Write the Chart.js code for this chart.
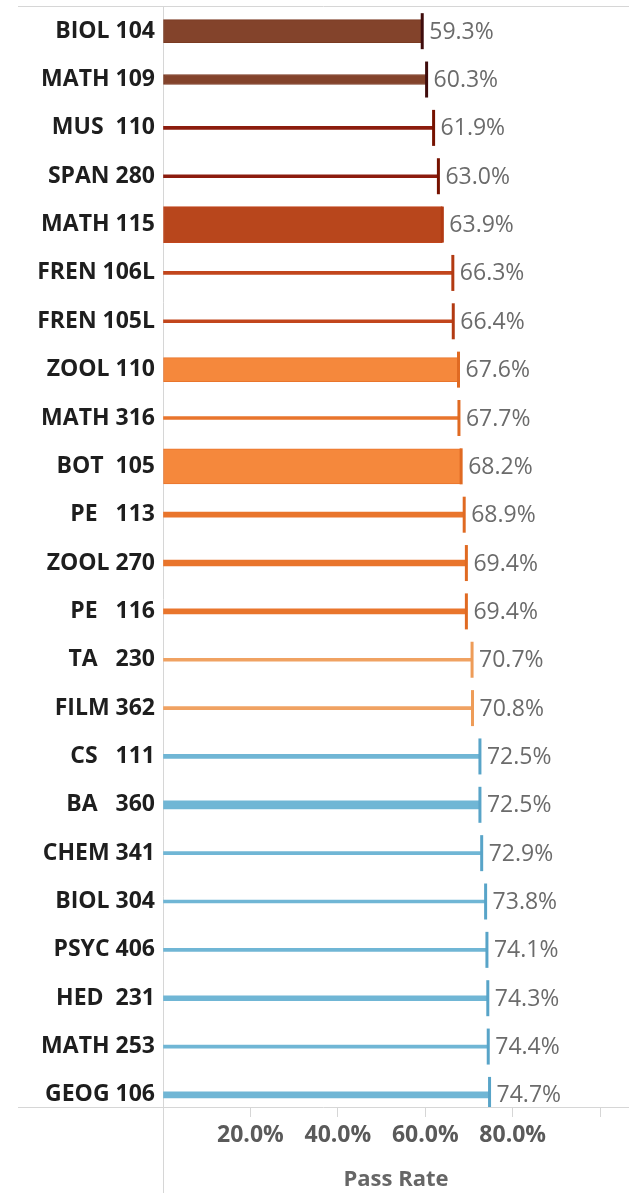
<!DOCTYPE html>
<html lang="en">
<head>
<meta charset="UTF-8">
<meta name="viewport" content="width=device-width, initial-scale=1.0">
<title>Pass Rate by Course</title>
<script src="https://cdn.jsdelivr.net/npm/chart.js"></script>
<style>
    html, body {
        margin: 0;
        padding: 0;
        background: #fff;
    }
    .chart-container {
        position: relative;
        width: 629px;
        height: 1193px;
    }
</style>
</head>
<body>

<div class="chart-container">
    <canvas id="passChart"></canvas>
</div>

<script>
    // courses, sorted by pass rate (subject padded to 4 chars like the source)
    const courses = ['BIOL 104', 'MATH 109', 'MUS  110', 'SPAN 280', 'MATH 115', 'FREN 106L', 'FREN 105L',
        'ZOOL 110', 'MATH 316', 'BOT  105', 'PE   113', 'ZOOL 270', 'PE   116', 'TA   230', 'FILM 362',
        'CS   111', 'BA   360', 'CHEM 341', 'BIOL 304', 'PSYC 406', 'HED  231', 'MATH 253', 'GEOG 106'];
    const passRates = [0.593, 0.603, 0.619, 0.630, 0.639, 0.663, 0.664, 0.676, 0.677, 0.682, 0.689, 0.694,
        0.694, 0.707, 0.708, 0.725, 0.725, 0.729, 0.738, 0.741, 0.743, 0.744, 0.747];
    // enrolment drives the bar thickness
    const enrolment = [230, 100, 30, 30, 360, 30, 30, 240, 30, 350, 50, 60, 50, 30, 30, 40, 80, 30, 30, 30, 50, 30, 60];
    const xTickValues = [0.2, 0.4, 0.6, 0.8];

    // colour steps by pass rate
    const tiers = [
        { upTo: 0.61,  fill: '#83432b', line: '#7a3a22', tick: '#3f0c0c' },
        { upTo: 0.635, fill: '#8c1c0e', line: '#8c1c0e', tick: '#761200' },
        { upTo: 0.67,  fill: '#b8461c', line: '#c2461c', tick: '#b23a12' },
        { upTo: 0.70,  fill: '#f5883c', line: '#e9752c', tick: '#e06a22' },
        { upTo: 0.72,  fill: '#f0a262', line: '#f0a262', tick: '#ee9c58' },
        { upTo: 1.01,  fill: '#78bbd8', line: '#70b6d5', tick: '#58a4c8' }
    ];
    const tierOf = r => tiers.find(t => r < t.upTo);
    const thicknessOf = n => n / 10;

    const frameAndLabels = {
        id: 'frameAndLabels',
        beforeDatasetsDraw(chart) {
            const { ctx, chartArea: a } = chart;
            ctx.save();
            ctx.strokeStyle = '#d6d6d6';
            ctx.lineWidth = 1;
            ctx.beginPath();
            ctx.moveTo(18, a.top - 0.5);
            ctx.lineTo(chart.width, a.top - 0.5);
            ctx.moveTo(18, a.bottom + 0.5);
            ctx.lineTo(chart.width, a.bottom + 0.5);
            ctx.moveTo(a.left + 0.5, a.top - 1);
            ctx.lineTo(a.left + 0.5, chart.height);
            ctx.stroke();
            ctx.restore();
        },
        afterDatasetsDraw(chart) {
            const { ctx } = chart;
            const meta = chart.getDatasetMeta(0);
            ctx.save();
            ctx.font = '23px "Open Sans"';
            ctx.fillStyle = '#6b6b6b';
            ctx.textAlign = 'left';
            ctx.textBaseline = 'middle';
            meta.data.forEach((pt, i) => {
                ctx.fillText((passRates[i] * 100).toFixed(1) + '%', pt.x + 7, pt.y + 1);
            });
            ctx.restore();
        }
    };

    const tickMarks = {
        type: 'scatter',
        data: courses.map((c, i) => ({ x: passRates[i], y: i })),
        pointStyle: 'line',
        rotation: 90,
        radius: 18,
        hoverRadius: 18,
        borderWidth: 3,
        borderColor: passRates.map(r => tierOf(r).tick),
        order: -1
    };

    const barSets = courses.map((c, i) => {
        const t = tierOf(passRates[i]);
        const thick = thicknessOf(enrolment[i]);
        return {
            type: 'bar',
            label: c,
            data: [{ x: passRates[i], y: i }],
            barThickness: thick,
            grouped: false,
            backgroundColor: thick > 8 ? t.fill : t.line,
            borderColor: t.line,
            borderWidth: thick > 8 ? 1 : 0,
            borderSkipped: false
        };
    });

    const ctx = document.getElementById('passChart').getContext('2d');
    new Chart(ctx, {
        type: 'bar',
        data: { datasets: [tickMarks, ...barSets] },
        plugins: [frameAndLabels],
        options: {
            indexAxis: 'y',
            responsive: true,
            maintainAspectRatio: false,
            animation: false,
            devicePixelRatio: 1,
            layout: { autoPadding: false, padding: { top: 7, left: 0, right: 0, bottom: 0 } },
            plugins: {
                legend: { display: false },
                tooltip: { enabled: false }
            },
            scales: {
                x: {
                    type: 'linear',
                    position: 'bottom',
                    min: 0,
                    max: 1.066,
                    offset: false,
                    afterFit: s => { s.height = 86; s.paddingLeft = 0; s.paddingRight = 0; },
                    border: { display: false },
                    grid: {
                        drawOnChartArea: false,
                        drawTicks: true,
                        tickLength: 10,
                        color: '#d6d6d6'
                    },
                    ticks: {
                        stepSize: 0.2,
                        includeBounds: false,
                        autoSkip: false,
                        maxRotation: 0,
                        padding: 5,
                        color: '#5a5a5a',
                        font: { family: 'Open Sans', size: 23, weight: 'bold' },
                        callback: v => xTickValues.some(t => Math.abs(t - v) < 1e-6) ? (v * 100).toFixed(1) + '%' : ''
                    },
                    title: {
                        display: true,
                        text: 'Pass Rate',
                        color: '#666',
                        font: { family: 'Open Sans', size: 22, weight: 'bold' },
                        padding: { top: 0, bottom: 0 }
                    }
                },
                y: {
                    type: 'linear',
                    position: 'left',
                    reverse: true,
                    offset: false,
                    min: -0.5,
                    max: courses.length - 0.75,
                    afterFit: s => { s.width = 163; s.paddingTop = 0; s.paddingBottom = 0; },
                    border: { display: false },
                    grid: { display: false, drawTicks: false, offset: false },
                    ticks: {
                        stepSize: 1,
                        includeBounds: false,
                        autoSkip: false,
                        padding: 8,
                        color: '#1e1e1e',
                        font: { family: 'Open Sans', size: 23, weight: 'bold' },
                        callback: v => courses[v] !== undefined ? courses[v] : ''
                    }
                }
            }
        }
    });
</script>

</body>
</html>
